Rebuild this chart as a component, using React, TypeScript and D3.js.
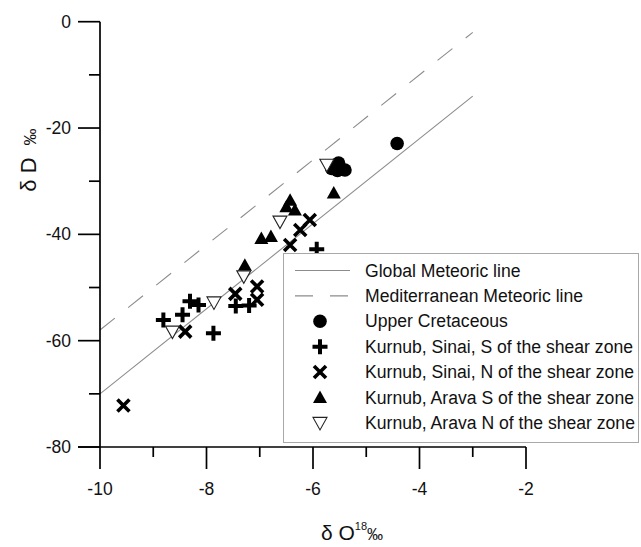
import { useEffect, useRef } from 'react';
import * as d3 from 'd3';

// δ18O / δD pairs
const upperCretaceousO = [-4.42, -5.52, -5.65, -5.40, -5.54];
const upperCretaceousD = [-22.9, -26.6, -27.6, -27.9, -28.0];

const sinaiSouthO = [-8.31, -8.15, -8.45, -8.81, -7.87, -7.45, -7.20, -5.93];
const sinaiSouthD = [-52.6, -53.3, -55.1, -56.1, -58.6, -53.5, -53.4, -42.8];

const sinaiNorthO = [-9.56, -8.40, -7.46, -7.05, -7.05, -6.43, -6.24, -6.06];
const sinaiNorthD = [-72.2, -58.3, -51.2, -49.8, -52.3, -42.0, -39.2, -37.3];

const aravaSouthO = [-7.28, -6.97, -6.79, -6.43, -6.50, -6.34, -5.61];
const aravaSouthD = [-45.8, -40.8, -40.4, -33.6, -34.8, -35.4, -32.2];

const aravaNorthO = [-8.64, -7.86, -7.30, -6.62, -5.74];
const aravaNorthD = [-58.3, -52.8, -47.9, -37.6, -26.9];

// meteoric water lines: dD = 8 * d18O + intercept
const lineO = [-10, -3];
const globalIntercept = 10;
const medIntercept = 22;

const xTicks = [-10, -8, -6, -4, -2];
const xMinor = [-9, -7, -5, -3];
const yTicks = [0, -20, -40, -60, -80];
const yMinor = [-10, -30, -50, -70];

const legendLabels = [
  'Global Meteoric line',
  'Mediterranean Meteoric line',
  'Upper Cretaceous',
  'Kurnub, Sinai, S of the shear zone',
  'Kurnub, Sinai, N of the shear zone',
  'Kurnub, Arava S of the shear zone',
  'Kurnub, Arava N of the shear zone',
];

const W = 641;
const H = 547;

const App = () => {
  const svgRef = useRef<SVGSVGElement>(null);

  useEffect(() => {
    const svg = d3.select(svgRef.current);
    svg.selectAll('*').remove();

    const x = d3.scaleLinear().domain([-10, -2]).range([100, 526]);
    const y = d3.scaleLinear().domain([-80, 0]).range([447, 21.7]);

    const font = 'Arial, "Liberation Sans", sans-serif';
    const g = svg.append('g').attr('font-family', font).attr('fill', '#111');

    // meteoric lines
    const drawLine = (b: number, dash: string | null) => {
      g.append('path')
        .attr('d', d3.line<number>().x(d => x(d)).y(d => y(8 * d + b))(lineO))
        .attr('fill', 'none')
        .attr('stroke', '#8c8c8c')
        .attr('stroke-width', 1.1)
        .attr('stroke-dasharray', dash);
    };
    drawLine(globalIntercept, null);
    drawLine(medIntercept, '19,17');

    // axes
    const axis = g.append('g').attr('stroke', '#000').attr('stroke-width', 1.7);
    axis.append('line').attr('x1', x(-10)).attr('x2', x(-10)).attr('y1', y(0)).attr('y2', y(-80));
    axis.append('line').attr('x1', x(-10) - 22).attr('x2', x(-2)).attr('y1', y(-80)).attr('y2', y(-80));
    axis.selectAll('.ymaj').data(yTicks).enter().append('line')
      .attr('x1', x(-10) - 22).attr('x2', x(-10)).attr('y1', d => y(d)).attr('y2', d => y(d));
    axis.selectAll('.ymin').data(yMinor).enter().append('line')
      .attr('x1', x(-10) - 11).attr('x2', x(-10)).attr('y1', d => y(d)).attr('y2', d => y(d));
    axis.selectAll('.xmaj').data(xTicks).enter().append('line')
      .attr('x1', d => x(d)).attr('x2', d => x(d)).attr('y1', y(-80)).attr('y2', y(-80) + 22);
    axis.selectAll('.xmin').data(xMinor).enter().append('line')
      .attr('x1', d => x(d)).attr('x2', d => x(d)).attr('y1', y(-80)).attr('y2', y(-80) + 10);

    g.selectAll('.ylab').data(yTicks).enter().append('text')
      .attr('x', 71).attr('y', d => y(d) + 6)
      .attr('text-anchor', 'end').attr('font-size', 17.5)
      .text(d => String(d));
    g.selectAll('.xlab').data(xTicks).enter().append('text')
      .attr('x', d => x(d)).attr('y', 495)
      .attr('text-anchor', 'middle').attr('font-size', 17.5)
      .text(d => String(d));

    // axis titles
    const yt = g.append('text')
      .attr('transform', 'translate(36,160) rotate(-90)')
      .attr('text-anchor', 'middle');
    yt.append('tspan').attr('font-size', 22).text('δ D');
    yt.append('tspan').attr('font-size', 17).attr('dx', 12).text('‰');

    const xt = g.append('text').attr('x', 352).attr('y', 540).attr('text-anchor', 'middle');
    xt.append('tspan').attr('font-size', 21).text('δ O');
    xt.append('tspan').attr('font-size', 11).attr('dy', -10).text('18');
    xt.append('tspan').attr('font-size', 16).attr('dy', 10).text('‰');

    // marker shapes
    const circle = (sel: any) => sel.append('circle').attr('r', 6.8).attr('fill', '#000');
    const plus = (sel: any) => sel.append('path').attr('d', 'M-7.5,0H7.5M0,-7.5V7.5')
      .attr('stroke', '#000').attr('stroke-width', 4).attr('fill', 'none');
    const cross = (sel: any) => sel.append('path').attr('d', 'M-6,-6L6,6M-6,6L6,-6')
      .attr('stroke', '#000').attr('stroke-width', 3.6).attr('fill', 'none');
    const triUp = (sel: any) => sel.append('path').attr('d', 'M0,-7L7,5.5L-7,5.5Z').attr('fill', '#000');
    const triDown = (sel: any) => sel.append('path').attr('d', 'M-7,-5.5L7,-5.5L0,7Z')
      .attr('fill', '#fff').attr('stroke', '#222').attr('stroke-width', 1.1);

    const series = [
      { o: upperCretaceousO, d: upperCretaceousD, m: circle },
      { o: sinaiSouthO, d: sinaiSouthD, m: plus },
      { o: sinaiNorthO, d: sinaiNorthD, m: cross },
      { o: aravaSouthO, d: aravaSouthD, m: triUp },
      { o: aravaNorthO, d: aravaNorthD, m: triDown },
    ];

    series.forEach(s => {
      s.o.forEach((v, i) => {
        const p = g.append('g').attr('transform', `translate(${x(v)},${y(s.d[i])})`);
        s.m(p);
      });
    });

    // legend
    const lg = g.append('g');
    lg.append('rect')
      .attr('x', 283.5).attr('y', 253.5).attr('width', 355).attr('height', 189)
      .attr('fill', '#fff').attr('stroke', '#a8a8a8').attr('stroke-width', 1);
    const rowY = (i: number) => 270.5 + i * 25.4;
    lg.append('line').attr('x1', 295).attr('x2', 350).attr('y1', rowY(0)).attr('y2', rowY(0))
      .attr('stroke', '#8c8c8c').attr('stroke-width', 1.1);
    lg.append('line').attr('x1', 295).attr('x2', 350).attr('y1', rowY(1)).attr('y2', rowY(1))
      .attr('stroke', '#8c8c8c').attr('stroke-width', 1.1).attr('stroke-dasharray', '18,17');
    series.forEach((s, i) => {
      const p = lg.append('g').attr('transform', `translate(320,${rowY(i + 2)})`);
      s.m(p);
    });
    lg.selectAll('.ltxt').data(legendLabels).enter().append('text')
      .attr('x', 365).attr('y', (d, i) => rowY(i) + 6)
      .attr('font-size', 17.6)
      .text(d => d);
  }, []);

  return (
    <svg ref={svgRef} width={W} height={H}
      style={{ position: 'absolute', left: 0, top: 0, background: '#fff' }} />
  );
};

export default App;
